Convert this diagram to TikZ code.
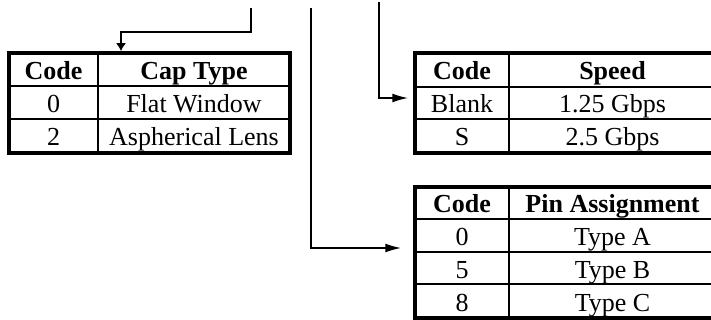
\documentclass[tikz,border=0pt]{standalone}
\usepackage{fontspec}
\setmainfont{Liberation Serif}
\usetikzlibrary{arrows.meta,calc}
\def\dlead{\draw[line width=1.8pt,-{Latex[length=16pt,width=9pt]}]}
\def\dsep{\draw[line width=2pt]}
\tikzset{
  tbl/.style={draw,line width=3.5pt,inner sep=0pt,anchor=north west},
  cell/.style={inner sep=0pt,text height=17pt,text depth=0pt,font=\fontsize{26}{30}\selectfont},
  head/.style={cell,font=\fontsize{26}{30}\selectfont\bfseries},
}

\begin{document}
\begin{tikzpicture}[x=1pt,y=-1pt]
  \useasboundingbox (0,0) rectangle (711,320);
  \clip (0,0) rectangle (711,320);

  % inner rules
  \dsep (98,53) -- (98,153) (9,86) -- (290,86) (9,119) -- (290,119);
  \dsep (509,53) -- (509,153) (415,87) -- (716,87) (415,119) -- (716,119);
  \dsep (509,187) -- (509,318) \foreach \y in {219,252,284} {(415,\y) -- (716,\y)};

  % tables
  \node[tbl,minimum width=281pt,minimum height=100pt] (cap)   at (7.25,51.25)    {};
  \node[tbl,minimum width=301pt,minimum height=100pt] (speed) at (413.25,51.25)  {};
  \node[tbl,minimum width=301pt,minimum height=131pt] (pin)   at (413.25,185.25) {};

  % cap type
  \node[head] (cap-h1) at (53.5,71) {Code};
  \node[head] (cap-h2) at (194,71)  {Cap Type};
  \foreach \c/\t/\y [count=\i] in {0/Flat Window/104, 2/Aspherical Lens/137} {
    \node[cell] (cap-c\i) at (53.5,\y) {\c};
    \node[cell] (cap-t\i) at (194,\y)  {\t};
  }

  % speed
  \node[head] (speed-h1) at (462,71.5)   {Code};
  \node[head] (speed-h2) at (612.5,71.5) {Speed};
  \foreach \c/\t/\y [count=\i] in {Blank/1.25 Gbps/104.5, S/2.5 Gbps/137.5} {
    \node[cell] (speed-c\i) at (462,\y)   {\c};
    \node[cell] (speed-t\i) at (612.5,\y) {\t};
  }

  % pin assignment
  \node[head] (pin-h1) at (462,204.5)   {Code};
  \node[head] (pin-h2) at (612.5,204.5) {Pin Assignment};
  \foreach \c/\t/\y [count=\i] in {0/Type A/237, 5/Type B/269.5, 8/Type C/302.5} {
    \node[cell] (pin-c\i) at (462,\y)   {\c};
    \node[cell] (pin-t\i) at (612.5,\y) {\t};
  }

  % leads
  \coordinate (p1) at (251,8);
  \coordinate (k1) at (121,32);
  \draw[line width=1.8pt,-{Latex[length=8pt,width=10pt]}] (p1) |- (k1) -- (k1 |- cap.north);
  \coordinate (p2) at (311,8);
  \coordinate (k2) at (311,248);
  \dlead (p2) -- (k2) -- ($(k2 -| pin.west)+(-12,0)$);
  \coordinate (p3) at (379,2);
  \coordinate (k3) at (379,98);
  \dlead (p3) -- (k3) -- ($(k3 -| speed.west)+(-5,0)$);
\end{tikzpicture}
\end{document}
